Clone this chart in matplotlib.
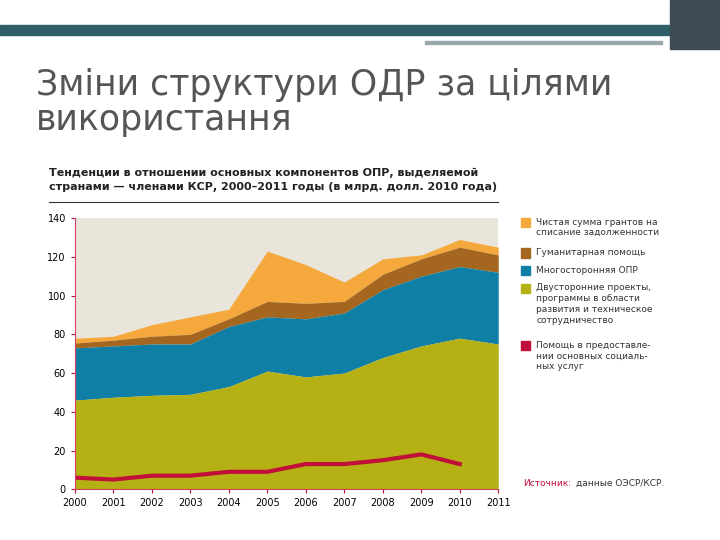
import numpy as np
import matplotlib.pyplot as plt
from matplotlib.patches import Rectangle

years = [2000, 2001, 2002, 2003, 2004, 2005, 2006, 2007, 2008, 2009, 2010, 2011]
bilateral = [46, 47.5, 48.5, 49, 53, 61, 58, 60, 68, 74, 78, 75]
multilateral_top = [73, 74, 75, 75, 84, 89, 88, 91, 103, 110, 115, 112]
humanitarian_top = [75.5, 77, 79, 80, 88, 97, 96, 97, 111, 119, 125, 121]
debt_top = [78, 79, 85, 89, 93, 123, 116, 107, 119, 121, 129, 125]
social_years = years[:11]
social = [6, 5, 7, 7, 9, 9, 13, 13, 15, 18, 13]

labels = ['Чистая сумма грантов на\nсписание задолженности',
          'Гуманитарная помощь',
          'Многосторонняя ОПР',
          'Двусторонние проекты,\nпрограммы в области\nразвития и техническое\nсотрудничество',
          'Помощь в предоставле-\nнии основных социаль-\nных услуг']
colors = ['#f5a93c', '#a5661f', '#0f7fa6', '#b5b014', '#c0103a']

fig = plt.figure(figsize=(7.2, 5.4), dpi=100)
fig.patches.append(Rectangle((0, 0.935), 1, 0.018, transform=fig.transFigure, color='#2f5f66'))
fig.patches.append(Rectangle((0.93, 0.91), 0.07, 0.09, transform=fig.transFigure, color='#3e4a54'))
fig.patches.append(Rectangle((0.59, 0.918), 0.33, 0.006, transform=fig.transFigure, color='#9aa8ad'))
fig.text(0.05, 0.875, 'Зміни структури ОДР за цілями\nвикористання', fontsize=25, color='#555555',
         va='top', linespacing=1.05)
fig.text(0.068, 0.645, 'Тенденции в отношении основных компонентов ОПР, выделяемой\n'
         'странами — членами КСР, 2000–2011 годы (в млрд. долл. 2010 года)',
         fontsize=8, color='#222222', va='bottom', linespacing=1.4, fontweight='bold')
fig.add_artist(plt.Line2D([0.068, 0.692], [0.626, 0.626], color='#333333', lw=0.8))

ax = fig.add_axes([0.104, 0.094, 0.588, 0.502])
ax.set_facecolor('#e9e5da')
ax.fill_between(years, humanitarian_top, debt_top, color=colors[0], lw=0)
ax.fill_between(years, multilateral_top, humanitarian_top, color=colors[1], lw=0)
ax.fill_between(years, bilateral, multilateral_top, color=colors[2], lw=0)
ax.fill_between(years, 0, bilateral, color=colors[3], lw=0)
ax.plot(social_years, social, color=colors[4], lw=3)
ax.set_xlim(2000, 2011)
ax.set_ylim(0, 140)
ax.set_xticks(years)
ax.set_yticks(range(0, 141, 20))
ax.tick_params(labelsize=7, length=3, color='#c0103a')
for s in ['top', 'right']:
    ax.spines[s].set_visible(False)
ax.spines['left'].set_color('#d04060')
ax.spines['bottom'].set_color('#d04060')

y = 0.585
for lab, c in zip(labels, colors):
    fig.patches.append(Rectangle((0.723, y - 0.005), 0.013, 0.017, transform=fig.transFigure, color=c))
    fig.text(0.745, y + 0.012, lab, fontsize=6.5, color='#333333', va='top', linespacing=1.25)
    n = lab.count('\n') + 1
    y -= 0.0245 * n + 0.008
fig.text(0.727, 0.10, 'Источник:', fontsize=6.5, color='#c0103a')
fig.text(0.800, 0.10, 'данные ОЭСР/КСР.', fontsize=6.5, color='#333333')

fig.savefig('out.png', dpi=100)
